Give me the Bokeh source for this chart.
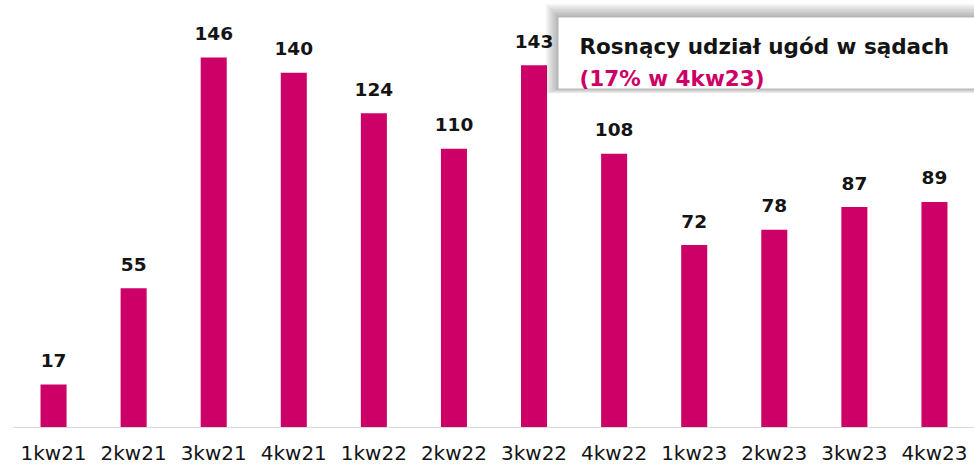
from bokeh.plotting import figure
from bokeh.models import FactorRange, Range1d, BoxAnnotation, Label, ColumnDataSource
from bokeh.core.properties import value
from bokeh.embed import file_html
from bokeh.resources import INLINE

categories = ["1kw21", "2kw21", "3kw21", "4kw21", "1kw22", "2kw22",
              "3kw22", "4kw22", "1kw23", "2kw23", "3kw23", "4kw23"]
values = [17, 55, 146, 140, 124, 110, 143, 108, 72, 78, 87, 89]
labels = [str(v) for v in values]

title_line1 = "Rosnący udział ugód w sądach"
title_line2 = "(17% w 4kw23)"

BAR = "#CC0066"
FONT = "DejaVu Sans"

W, H = 974, 467
LEFT = 13
BASE = 427
PX_PER_UNIT = 2.534
Y_MAX = BASE / PX_PER_UNIT

src = ColumnDataSource(dict(x=categories, top=values, label=labels))

p = figure(width=W, height=H, x_range=FactorRange(factors=categories),
           y_range=Range1d(0, Y_MAX), output_backend="svg", toolbar_location=None,
           min_border_left=LEFT, min_border_right=0, min_border_top=0, min_border_bottom=0)
p.outline_line_color = None
p.xgrid.visible = False
p.ygrid.visible = False
p.yaxis.visible = False

p.vbar(x="x", top="top", width=0.325, source=src, fill_color=BAR, line_color=None)
p.text(x="x", y="top", text="label", source=src, text_align="center",
       text_baseline="alphabetic", y_offset=-24, text_font=value(FONT),
       text_font_style="bold", text_font_size="18.5px", text_color="#141414")

ax = p.xaxis[0]
ax.axis_line_color = "#d9d9d9"
ax.axis_line_width = 1
ax.major_tick_line_color = None
ax.minor_tick_line_color = None
ax.major_tick_in = 0
ax.major_tick_out = 0
ax.major_label_standoff = 13
ax.major_label_text_font = FONT
ax.major_label_text_font_size = "20px"
ax.major_label_text_color = "#141414"

CAT_W = (W - LEFT) / len(categories)


def dx(px):
    return (px - LEFT) / CAT_W


def dy(py):
    return (BASE - py) / PX_PER_UNIT


box_l, box_t, box_b = 558, 17, 88
box_r = len(categories)

# soft shadow
for k in range(1, 11):
    p.add_layout(BoxAnnotation(left=dx(box_l - 1.3 * k), right=box_r,
                               top=dy(box_t - 1.4 * k), bottom=dy(box_b + 0.5 * k),
                               fill_color="black", fill_alpha=0.03, line_color=None))
p.add_layout(BoxAnnotation(left=dx(box_l), right=box_r, top=dy(box_t), bottom=dy(box_b),
                           fill_color="white", fill_alpha=1.0, line_color=None))

p.add_layout(Label(x=dx(579), y=dy(46), text=title_line1, text_font=FONT,
                   text_font_style="bold", text_font_size="21.5px", text_color="#141414",
                   text_baseline="alphabetic"))
p.add_layout(Label(x=dx(579), y=dy(78), text=title_line2, text_font=FONT,
                   text_font_style="bold", text_font_size="21.5px", text_color=BAR,
                   text_baseline="alphabetic"))

open("out.html", "w").write(file_html(p, INLINE))
